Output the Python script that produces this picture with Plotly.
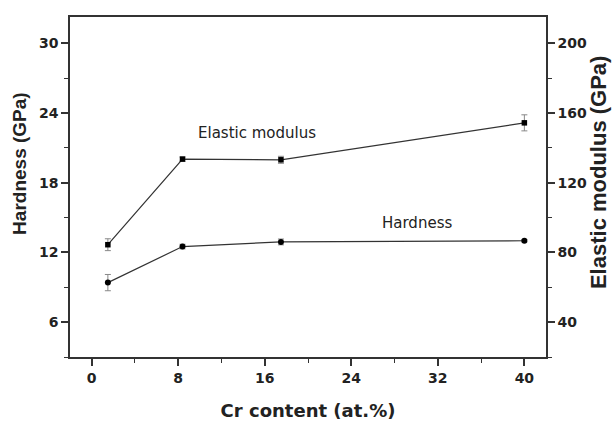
import plotly.graph_objects as go

cr_content = [1.5, 8.4, 17.5, 40]
hardness = [9.4, 12.5, 12.9, 13.0]
hardness_err = [0.7, 0.2, 0.25, 0.1]
elastic = [84.4, 133.5, 133.1, 154.3]
elastic_err = [3.4, 1.2, 2.0, 4.6]

x_ticks = [0, 8, 16, 24, 32, 40]
y_ticks = [6, 12, 18, 24, 30]
y2_ticks = [40, 80, 120, 160, 200]

line_col = "#333333"
err_col = "#888888"

fig = go.Figure()
fig.add_trace(go.Scatter(
    x=cr_content, y=hardness, mode="lines+markers",
    line=dict(color=line_col, width=1.2),
    marker=dict(symbol="circle", size=6, color="black"),
    error_y=dict(type="data", array=hardness_err, color=err_col, thickness=1, width=3),
    showlegend=False, yaxis="y"))
fig.add_trace(go.Scatter(
    x=cr_content, y=elastic, mode="lines+markers",
    line=dict(color=line_col, width=1.2),
    marker=dict(symbol="square", size=5.5, color="black"),
    error_y=dict(type="data", array=elastic_err, color=err_col, thickness=1, width=3),
    showlegend=False, yaxis="y2"))

tickfont = dict(family="DejaVu Sans", size=14, color="#222222", weight="bold")
titlefont_v = dict(family="Liberation Sans", color="#222222", weight="bold")

fig.update_layout(
    width=615, height=423,
    margin=dict(l=70, r=69, t=17, b=66),
    plot_bgcolor="white", paper_bgcolor="white",
    xaxis=dict(
        range=[-2, 42], tickmode="array", tickvals=x_ticks, automargin=False,
        ticks="outside", ticklen=7, tickwidth=1.5, tickcolor=line_col,
        minor=dict(dtick=4, tick0=0, ticks="outside", ticklen=4, tickwidth=1.2, tickcolor=line_col),
        showline=True, linecolor=line_col, linewidth=1.5, mirror=True,
        showgrid=False, zeroline=False, tickfont=tickfont,
        title=dict(text="Cr content (at.%)", standoff=20,
                   font=dict(family="DejaVu Sans", size=18, color="#222222", weight="bold")),
    ),
    yaxis=dict(
        range=[3, 32.25], tickmode="array", tickvals=y_ticks, automargin=False,
        ticks="outside", ticklen=7, tickwidth=1.5, tickcolor=line_col,
        minor=dict(dtick=3, tick0=0, ticks="outside", ticklen=4, tickwidth=1.2, tickcolor=line_col),
        showline=True, linecolor=line_col, linewidth=1.5,
        showgrid=False, zeroline=False, tickfont=tickfont,
    ),
    yaxis2=dict(
        range=[20, 215], tickmode="array", tickvals=y2_ticks, automargin=False,
        overlaying="y", side="right",
        ticks="outside", ticklen=7, tickwidth=1.5, tickcolor=line_col,
        minor=dict(dtick=20, tick0=0, ticks="outside", ticklen=4, tickwidth=1.2, tickcolor=line_col),
        showline=True, linecolor=line_col, linewidth=1.5,
        showgrid=False, zeroline=False, tickfont=tickfont,
    ),
    annotations=[
        dict(text="Elastic modulus", x=15.3, y=22.26, xref="x", yref="y", showarrow=False,
             font=dict(family="DejaVu Sans", size=15, color="#222222")),
        dict(text="Hardness", x=30.1, y=14.55, xref="x", yref="y", showarrow=False,
             font=dict(family="DejaVu Sans", size=15, color="#222222")),
        dict(text="Hardness (GPa)", x=-0.105, y=0.568, xref="paper", yref="paper",
             textangle=-90, showarrow=False, xanchor="center", yanchor="middle",
             font=dict(size=19, **titlefont_v)),
        dict(text="Elastic modulus (GPa)", x=1.11, y=0.545, xref="paper", yref="paper",
             textangle=-90, showarrow=False, xanchor="center", yanchor="middle",
             font=dict(size=22, **titlefont_v)),
    ],
)

fig.write_html("out.html")
